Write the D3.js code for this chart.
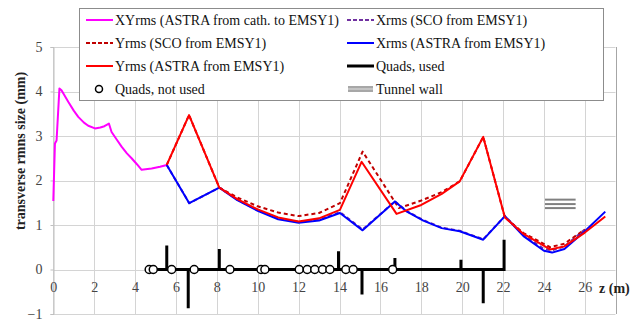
<!DOCTYPE html>
<html>
<head>
<meta charset="utf-8">
<script src="https://cdn.jsdelivr.net/npm/d3@7"></script>
<style>
  body { margin: 0; background: #fff; }
</style>
</head>
<body>
<script>
// ---- data (z in m, size in mm) ----
const xyAstraCath = [
  [0, 1.54], [0.08, 2.83], [0.16, 2.9], [0.3, 4.07], [0.4, 4.03], [0.73, 3.77],
  [1.0, 3.57], [1.22, 3.43], [1.5, 3.3], [1.71, 3.23], [2.04, 3.17], [2.3, 3.19],
  [2.5, 3.22], [2.72, 3.28], [2.85, 3.09], [3.1, 2.92], [3.34, 2.76], [3.6, 2.61],
  [3.83, 2.5], [4.1, 2.36], [4.32, 2.24], [4.81, 2.27], [5.22, 2.31], [5.55, 2.35]
];
const xSco = [
  [5.55, 2.35], [6.65, 1.49], [8.12, 1.84], [9, 1.57], [10, 1.33], [11, 1.15],
  [12, 1.07], [13, 1.12], [14.02, 1.29], [15.13, 0.9], [16.71, 1.53], [17.3, 1.31],
  [18.1, 1.11], [19, 0.94], [19.88, 0.87], [21.03, 0.68], [22.09, 1.2], [23, 0.78],
  [24, 0.46], [24.4, 0.43], [25, 0.52], [26, 0.9]
];
const ySco = [
  [5.55, 2.35], [6.64, 3.47], [8.12, 1.84], [9, 1.62], [10, 1.42], [11, 1.28],
  [12, 1.2], [13, 1.27], [14.02, 1.49], [15.13, 2.65], [16.9, 1.38], [18, 1.55],
  [19, 1.74], [19.88, 1.98], [21.03, 2.98], [22.09, 1.17], [23, 0.82], [24.3, 0.5],
  [25, 0.58], [26, 0.9]
];
const xAstra = [
  [5.55, 2.35], [6.65, 1.49], [8.12, 1.84], [9, 1.56], [10, 1.32], [11, 1.13],
  [12, 1.05], [13, 1.1], [14.02, 1.27], [15.13, 0.88], [16.71, 1.53], [17.3, 1.3],
  [18.1, 1.1], [19, 0.93], [19.88, 0.86], [21.03, 0.67], [22.09, 1.2], [23, 0.75],
  [24, 0.42], [24.4, 0.38], [25, 0.46], [26, 0.86], [27, 1.3]
];
const yAstra = [
  [5.55, 2.35], [6.64, 3.47], [8.12, 1.84], [9, 1.58], [10, 1.35], [11, 1.17],
  [12, 1.08], [13, 1.15], [14.02, 1.34], [15.08, 2.42], [16.79, 1.25], [18, 1.45],
  [19, 1.7], [19.88, 1.98], [21.03, 2.98], [22.09, 1.17], [23, 0.8], [24.3, 0.45],
  [25, 0.52], [26, 0.83], [27, 1.19]
];
// quads used: position and kick height
const quadZ = [5.55, 6.6, 8.12, 13.95, 15.1, 16.71, 19.94, 21.03, 22.05];
const quadK = [0.54, -0.87, 0.46, 0.41, -0.56, 0.26, 0.22, -0.76, 0.67];
// quads not used
const unusedZ = [4.69, 4.89, 5.79, 6.89, 8.64, 10.16, 10.35, 12.03, 12.42, 12.79,
  13.17, 13.53, 14.31, 14.67, 16.6];
// tunnel wall
const tunnelZ = [24.05, 25.55];
const tunnelV = [1.57, 1.47, 1.38];

const xTicks = d3.range(0, 27, 2);
const yTicks = [-1, 0, 1, 2, 3, 4, 5];

const FONT = "'Liberation Serif', serif";

// ---- svg ----
const width = 638, height = 321;
const svg = d3.select("body").append("svg")
  .attr("width", width).attr("height", height)
  .style("display", "block");

const x = d3.scaleLinear().domain([0, 27.5]).range([53.3, 615.5]);
const y = d3.scaleLinear().domain([-1, 5]).range([314, 47]);

// grid
const grid = svg.append("g").attr("stroke", "#d4d4d4").attr("stroke-width", 1);
grid.selectAll(".gx").data(xTicks).join("line")
  .attr("x1", d => Math.round(x(d)) + 0.5).attr("x2", d => Math.round(x(d)) + 0.5)
  .attr("y1", y(5)).attr("y2", y(-1));
grid.selectAll(".gy").data(yTicks).join("line")
  .attr("x1", x(0)).attr("x2", x(27.5))
  .attr("y1", d => Math.round(y(d)) + 0.5).attr("y2", d => Math.round(y(d)) + 0.5);

// frame right
svg.append("line")
  .attr("x1", Math.round(x(27.5)) + 0.5).attr("x2", Math.round(x(27.5)) + 0.5)
  .attr("y1", y(5)).attr("y2", y(-1))
  .attr("stroke", "#a6a6a6");

// y axis (ticks outside, labels)
const yAxis = d3.axisLeft(y).tickValues(yTicks).tickSize(3).tickPadding(8)
  .tickFormat(d3.format("d"));
svg.append("g")
  .attr("transform", `translate(${Math.round(x(0)) + 0.5},0)`)
  .call(yAxis)
  .attr("font-family", null)
  .call(g => g.select(".domain").attr("stroke", "#bfbfbf"))
  .call(g => g.selectAll(".tick line").attr("stroke", "#bfbfbf"))
  .call(g => g.selectAll("text").style("font-family", FONT)
    .attr("font-size", 14).attr("fill", "#444"));

// x axis labels (axis crosses at 0)
const xAxis = d3.axisBottom(x).tickValues(xTicks).tickSize(0).tickPadding(13)
  .tickFormat(d3.format("d"));
svg.append("g")
  .attr("transform", `translate(0,${y(0)})`)
  .call(xAxis)
  .attr("font-family", null)
  .call(g => g.select(".domain").remove())
  .call(g => g.selectAll("text").style("font-family", FONT)
    .attr("font-size", 14).attr("fill", "#444"));

// axis titles
svg.append("text")
  .attr("x", 599).attr("y", 293)
  .style("font-family", FONT)
  .attr("font-size", 14).attr("font-weight", "bold").attr("fill", "#222")
  .text("z (m)");
svg.append("text")
  .attr("transform", `translate(25,151) rotate(-90)`)
  .attr("text-anchor", "middle")
  .style("font-family", FONT)
  .attr("font-size", 14).attr("font-weight", "bold").attr("fill", "#222")
  .text("transverse rmns size (mm)");

// ---- series ----
const line = d3.line().x(d => x(d[0])).y(d => y(d[1]));
const plot = svg.append("g").attr("fill", "none");

const series = [
  { data: xyAstraCath, color: "#ff00ff", dash: null },
  { data: xSco, color: "#7030a0", dash: "4,3" },
  { data: ySco, color: "#c00000", dash: "4,3" },
  { data: xAstra, color: "#0000ff", dash: null },
  { data: yAstra, color: "#ff0000", dash: null }
];
plot.selectAll(".series").data(series).join("path")
  .attr("d", d => line(d.data))
  .attr("stroke", d => d.color)
  .attr("stroke-width", 2)
  .attr("stroke-dasharray", d => d.dash)
  .attr("stroke-linejoin", "round");

// quads used: baseline with kicks
const quadPts = [[unusedZ[0], 0]];
quadZ.forEach((z, i) => { quadPts.push([z, 0], [z, quadK[i]], [z, 0]); });
plot.append("path")
  .attr("d", line(quadPts.slice(0, -1)))
  .attr("stroke", "#000").attr("stroke-width", 3);

// quads not used
svg.append("g").selectAll("circle").data(unusedZ).join("circle")
  .attr("cx", d => x(d)).attr("cy", y(0)).attr("r", 4)
  .attr("fill", "#fff").attr("stroke", "#000").attr("stroke-width", 1.5);

// tunnel wall
plot.selectAll(".tw").data(tunnelV).join("line")
  .attr("x1", x(tunnelZ[0])).attr("x2", x(tunnelZ[1]))
  .attr("y1", d => y(d)).attr("y2", d => y(d))
  .attr("stroke", "#808080").attr("stroke-width", 2);

// ---- legend ----
const lg = svg.append("g");
lg.append("rect")
  .attr("x", 79.5).attr("y", 8.5).attr("width", 524).attr("height", 92)
  .attr("fill", "#fff").attr("stroke", "#8c8c8c");

const legendItems = [
  { label: "XYrms (ASTRA from cath. to EMSY1)", col: 0, row: 0, type: "line", color: "#ff00ff" },
  { label: "Yrms (SCO from EMSY1)", col: 0, row: 1, type: "line", color: "#c00000", dash: "4,2" },
  { label: "Yrms (ASTRA from EMSY1)", col: 0, row: 2, type: "line", color: "#ff0000" },
  { label: "Quads, not used", col: 0, row: 3, type: "circle" },
  { label: "Xrms (SCO from EMSY1)", col: 1, row: 0, type: "line", color: "#7030a0", dash: "4,2" },
  { label: "Xrms (ASTRA from EMSY1)", col: 1, row: 1, type: "line", color: "#0000ff" },
  { label: "Quads, used", col: 1, row: 2, type: "line", color: "#000", w: 3 },
  { label: "Tunnel wall", col: 1, row: 3, type: "tunnel" }
];
const colX = [86, 347];
const rowY = [20, 43, 66, 89];

legendItems.forEach(it => {
  const x0 = colX[it.col], yy = rowY[it.row];
  if (it.type === "line") {
    lg.append("line")
      .attr("x1", x0).attr("x2", x0 + 27).attr("y1", yy).attr("y2", yy)
      .attr("stroke", it.color).attr("stroke-width", it.w || 2)
      .attr("stroke-dasharray", it.dash || null);
  } else if (it.type === "circle") {
    lg.append("circle")
      .attr("cx", x0 + 13).attr("cy", yy).attr("r", 3.5)
      .attr("fill", "#fff").attr("stroke", "#000").attr("stroke-width", 1.5);
  } else {
    [-2, 0, 2].forEach(o => {
      lg.append("line")
        .attr("x1", x0 + 1).attr("x2", x0 + 26).attr("y1", yy + o).attr("y2", yy + o)
        .attr("stroke", o === 0 ? "#b0b0b0" : "#8a8a8a").attr("stroke-width", 1.5);
    });
  }
  lg.append("text")
    .attr("x", x0 + 29).attr("y", yy + 5)
    .style("font-family", FONT)
    .attr("font-size", 14).attr("fill", "#111")
    .text(it.label);
});
</script>
</body>
</html>
